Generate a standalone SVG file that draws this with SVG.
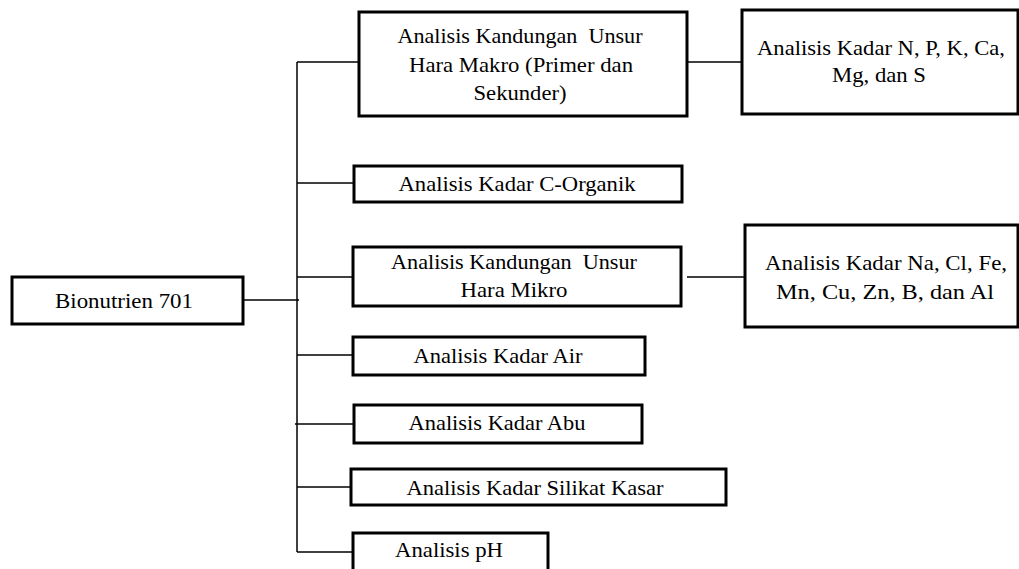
<svg xmlns="http://www.w3.org/2000/svg" width="1019" height="569" viewBox="0 0 1019 569">
<style>
.box{fill:#fff;stroke:#000;stroke-width:3}
.t{font-family:"Liberation Serif","DejaVu Serif","Noto Serif",serif;font-size:21px;fill:#000;text-anchor:middle;white-space:pre}
.c{stroke:#000;stroke-width:1.5;fill:none}
</style>
<rect width="1019" height="569" fill="#fff"/>
<g id="connectors">
<path class="c" d="M297 62V552"/>
<path class="c" d="M243 300H299"/>
<path class="c" d="M297 62H359"/>
<path class="c" d="M297 183H354"/>
<path class="c" d="M297 277H353"/>
<path class="c" d="M297 355H353"/>
<path class="c" d="M295 424H354"/>
<path class="c" d="M297 487H351"/>
<path class="c" d="M297 552H353"/>
<path class="c" d="M687 62H742"/>
<path class="c" d="M687 277H745"/>
</g>
<g id="bionutrien">
<rect class="box" x="12" y="277" width="231" height="47"/>
<text class="t" x="124" y="308" textLength="138" lengthAdjust="spacingAndGlyphs">Bionutrien 701</text>
</g>
<g id="makro">
<rect class="box" x="359" y="12" width="328" height="104"/>
<text class="t" x="520" y="43" textLength="245" lengthAdjust="spacingAndGlyphs">Analisis Kandungan  Unsur</text>
<text class="t" x="521" y="72" textLength="224" lengthAdjust="spacingAndGlyphs">Hara Makro (Primer dan</text>
<text class="t" x="520" y="100" textLength="93" lengthAdjust="spacingAndGlyphs">Sekunder)</text>
</g>
<g id="npk">
<rect class="box" x="742" y="10" width="276" height="104"/>
<text class="t" x="881" y="55" textLength="248" lengthAdjust="spacingAndGlyphs">Analisis Kadar N, P, K, Ca,</text>
<text class="t" x="879" y="82" textLength="94" lengthAdjust="spacingAndGlyphs">Mg, dan S</text>
</g>
<g id="corganik">
<rect class="box" x="354" y="166" width="328" height="36"/>
<text class="t" x="517" y="191" textLength="237" lengthAdjust="spacingAndGlyphs">Analisis Kadar C-Organik</text>
</g>
<g id="mikro">
<rect class="box" x="353" y="247" width="328" height="59"/>
<text class="t" x="514" y="269" textLength="246" lengthAdjust="spacingAndGlyphs">Analisis Kandungan  Unsur</text>
<text class="t" x="514" y="297" textLength="107" lengthAdjust="spacingAndGlyphs">Hara Mikro</text>
</g>
<g id="naclfe">
<rect class="box" x="745" y="225" width="273" height="102"/>
<text class="t" x="886" y="270" textLength="242" lengthAdjust="spacingAndGlyphs">Analisis Kadar Na, Cl, Fe,</text>
<text class="t" x="885" y="299" textLength="218" lengthAdjust="spacingAndGlyphs">Mn, Cu, Zn, B, dan Al</text>
</g>
<g id="air">
<rect class="box" x="353" y="337" width="292" height="38"/>
<text class="t" x="498" y="363" textLength="169" lengthAdjust="spacingAndGlyphs">Analisis Kadar Air</text>
</g>
<g id="abu">
<rect class="box" x="354" y="405" width="288" height="38"/>
<text class="t" x="497" y="430" textLength="177" lengthAdjust="spacingAndGlyphs">Analisis Kadar Abu</text>
</g>
<g id="silikat">
<rect class="box" x="351" y="469" width="375" height="36"/>
<text class="t" x="535" y="495" textLength="257" lengthAdjust="spacingAndGlyphs">Analisis Kadar Silikat Kasar</text>
</g>
<g id="ph">
<rect class="box" x="353" y="533" width="195" height="40"/>
<text class="t" x="449" y="557" textLength="108" lengthAdjust="spacingAndGlyphs">Analisis pH</text>
</g>
</svg>
